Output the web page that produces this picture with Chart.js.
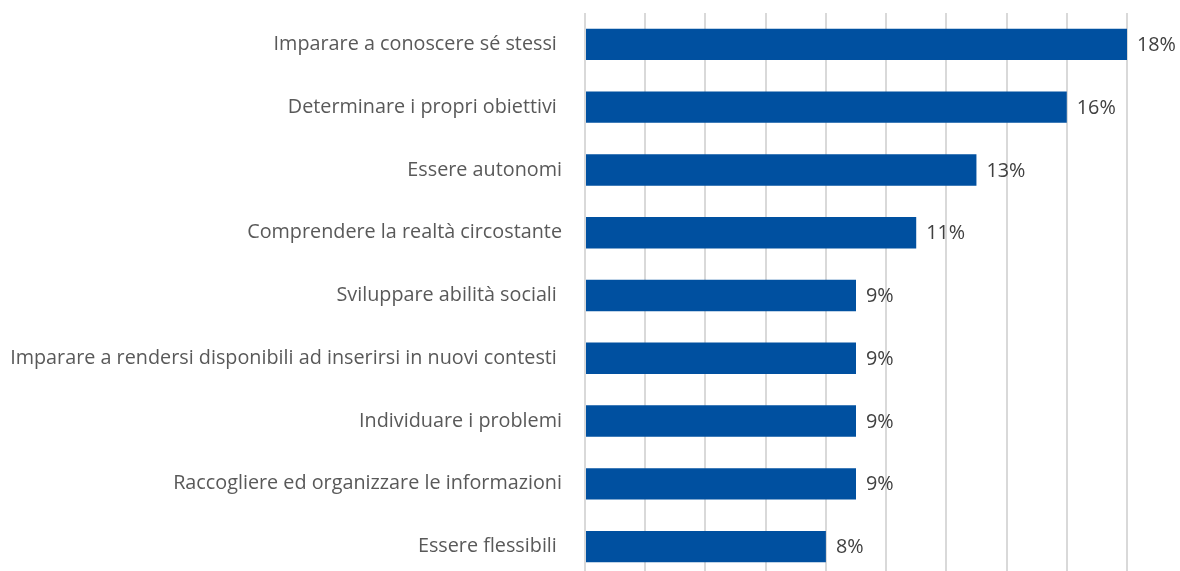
<!DOCTYPE html>
<html>
<head>
<meta charset="utf-8">
<script src="https://cdn.jsdelivr.net/npm/chart.js@4/dist/chart.umd.min.js"></script>
<style>
  html, body { margin: 0; padding: 0; background: #fff; overflow: hidden; }
  #wrap { width: 1180px; height: 590px; }
</style>
</head>
<body>
<div id="wrap"><canvas id="c" width="1180" height="590"></canvas></div>
<script>
// Competenze e relative quote percentuali
const categories = [
  "Imparare a conoscere sé stessi ",
  "Determinare i propri obiettivi ",
  "Essere autonomi",
  "Comprendere la realtà circostante",
  "Sviluppare abilità sociali ",
  "Imparare a rendersi disponibili ad inserirsi in nuovi contesti ",
  "Individuare i problemi",
  "Raccogliere ed organizzare le informazioni",
  "Essere flessibili "
];
const values = [18, 16, 13, 11, 9, 9, 9, 9, 8];
const xTicks = [0, 2, 4, 6, 8, 10, 12, 14, 16, 18];

const FONT = "'Open Sans', sans-serif";
const FONT_SIZE = 19.8;

// Etichette percentuali a destra di ogni barra
const valueLabels = {
  id: 'valueLabels',
  afterDatasetsDraw(chart) {
    const ctx = chart.ctx;
    const meta = chart.getDatasetMeta(0);
    ctx.save();
    ctx.font = FONT_SIZE + "px " + FONT;
    ctx.fillStyle = "#404040";
    ctx.textAlign = "left";
    ctx.textBaseline = "middle";
    meta.data.forEach((bar, i) => {
      ctx.fillText(values[i] + "%", bar.x + 10, bar.y + 1);
    });
    ctx.restore();
  }
};

new Chart(document.getElementById('c'), {
  type: 'bar',
  data: {
    labels: categories,
    datasets: [{
      data: values,
      backgroundColor: '#0050a0',
      borderWidth: 0,
      categoryPercentage: 0.5,
      barPercentage: 1.0
    }]
  },
  options: {
    indexAxis: 'y',
    responsive: false,
    animation: false,
    devicePixelRatio: 1,
    layout: { padding: { top: 13, right: 53, bottom: 12, left: 0 } },
    plugins: { legend: { display: false }, tooltip: { enabled: false } },
    scales: {
      x: {
        min: 0,
        max: 18,
        afterBuildTicks(scale) { scale.ticks = xTicks.map(v => ({ value: v })); },
        ticks: { display: false },
        grid: { color: '#d9d9d9', lineWidth: 2, drawTicks: false },
        border: { display: false },
        afterFit(scale) { scale.height = 0; }
      },
      y: {
        ticks: {
          color: '#595959',
          font: { family: FONT, size: FONT_SIZE },
          padding: 0
        },
        grid: {
          display: true,
          drawOnChartArea: false,
          drawTicks: true,
          tickLength: 23,
          color: 'rgba(0,0,0,0)'
        },
        border: { display: false },
        afterFit(scale) { scale.width = 585; }
      }
    }
  },
  plugins: [valueLabels]
});
</script>
</body>
</html>
